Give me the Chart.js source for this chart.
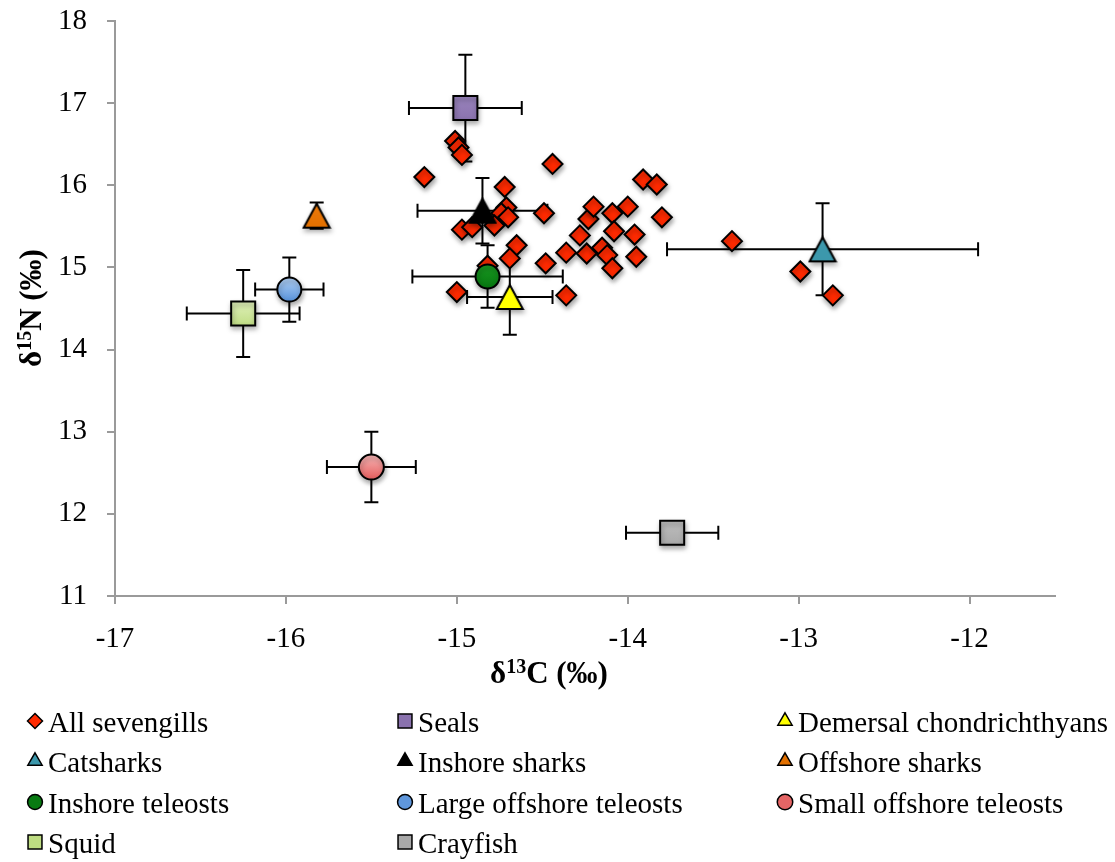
<!DOCTYPE html>
<html>
<head>
<meta charset="utf-8">
<script src="https://cdn.jsdelivr.net/npm/chart.js@4/dist/chart.umd.min.js"></script>
<style>
  html, body { margin: 0; padding: 0; background: #fff; }
  #wrap { width: 1115px; height: 862px; position: relative; }
</style>
</head>
<body>
<div id="wrap"><canvas id="c"></canvas></div>
<script>
const SERIF = '"Liberation Serif", "Times New Roman", serif';

// Individual sevengill sharks: δ13C and δ15N (‰)
const sevengillsC = [-15.19, -15.01, -14.99, -14.97, -14.44, -14.72, -14.71, -14.74, -14.70, -14.49,
                     -14.97, -14.91, -14.78, -14.65, -14.69, -14.82, -14.48, -15.00, -14.36, -14.36,
                     -14.24, -14.28, -14.23, -14.20, -13.91, -13.83, -14.00, -14.09, -13.80, -14.08,
                     -13.96, -14.15, -14.12, -13.95, -14.09, -13.39, -12.99, -12.80];
const sevengillsN = [16.10, 16.54, 16.46, 16.37, 16.26, 15.98, 15.73, 15.66, 15.61, 15.66,
                     15.46, 15.49, 15.51, 15.27, 15.11, 15.02, 15.05, 14.70, 14.66, 15.18,
                     15.17, 15.39, 15.59, 15.74, 16.07, 16.01, 15.74, 15.66, 15.61, 15.44,
                     15.40, 15.24, 15.15, 15.13, 14.99, 15.32, 14.95, 14.66];

// Prey and competitor groups: mean δ13C / δ15N with standard deviations
const groupNames = ['Seals', 'Demersal chondrichthyans', 'Catsharks', 'Inshore sharks', 'Offshore sharks',
                    'Inshore teleosts', 'Large offshore teleosts', 'Small offshore teleosts', 'Squid', 'Crayfish'];
const groupC   = [-14.95, -14.69, -12.86, -14.85, -15.82, -14.82, -15.98, -15.50, -16.25, -13.74];
const groupN   = [16.94, 14.64, 15.22, 15.69, 15.63, 14.89, 14.73, 12.57, 14.44, 11.77];
const groupCSd = [0.33, 0.25, 0.91, 0.38, 0.00, 0.44, 0.20, 0.26, 0.33, 0.27];
const groupNSd = [0.65, 0.46, 0.56, 0.40, 0.16, 0.38, 0.39, 0.43, 0.53, 0.00];

// Axis ranges and tick spacing
const xRange = [-17, -11.5];
const yRange = [11, 18];
const tickStep = 1;

// Marker look for each group (top colour, bottom colour for a soft vertical shade)
const groupStyles = {
  'Seals':                    { shape: 'rect',     r: 17, top: '#9B86BE', bottom: '#8A72AE' },
  'Demersal chondrichthyans': { shape: 'triangle', r: 15, top: '#FFFF00', bottom: '#FFFF00' },
  'Catsharks':                { shape: 'triangle', r: 15, top: '#3C98AC', bottom: '#3C98AC' },
  'Inshore sharks':           { shape: 'triangle', r: 15, top: '#000000', bottom: '#000000' },
  'Offshore sharks':          { shape: 'triangle', r: 15, top: '#EC7A0C', bottom: '#E27000' },
  'Inshore teleosts':         { shape: 'circle',   r: 12, top: '#1A9A22', bottom: '#087A12' },
  'Large offshore teleosts':  { shape: 'circle',   r: 12, top: '#B3D2F6', bottom: '#5F97DC' },
  'Small offshore teleosts':  { shape: 'circle',   r: 12.5, top: '#F8B8B8', bottom: '#E56565' },
  'Squid':                    { shape: 'rect',     r: 17, top: '#E6F4C4', bottom: '#BEDC82' },
  'Crayfish':                 { shape: 'rect',     r: 17, top: '#C2C2C2', bottom: '#A8A8A8' }
};
const sevengillStyle = { shape: 'rectRot', r: 10, top: '#FF2A00', bottom: '#FF2A00' };

// Triangle marker whose bounding box (not centroid) sits on the data point
function triangleImage(style) {
  const w = 26, h = 24, pad = 2;
  const cv = document.createElement('canvas');
  cv.width = w + pad * 2; cv.height = h + pad * 2;
  const c = cv.getContext('2d');
  c.beginPath();
  c.moveTo(pad + w / 2, pad);
  c.lineTo(pad + w, pad + h);
  c.lineTo(pad, pad + h);
  c.closePath();
  const g = c.createLinearGradient(0, pad, 0, pad + h);
  g.addColorStop(0, style.top); g.addColorStop(1, style.bottom);
  c.fillStyle = g;
  c.fill();
  c.lineJoin = 'miter';
  c.lineWidth = 2;
  c.strokeStyle = '#000';
  c.stroke();
  return cv;
}

function shadedFill(style) {
  return function (ctx) {
    const chart = ctx.chart;
    if (style.top === style.bottom || !ctx.parsed || !chart.scales.y) return style.bottom;
    const py = chart.scales.y.getPixelForValue(ctx.parsed.y);
    if (!isFinite(py)) return style.bottom;
    const g = chart.ctx.createLinearGradient(0, py - style.r, 0, py + style.r * 0.8);
    g.addColorStop(0, style.top);
    g.addColorStop(1, style.bottom);
    return g;
  };
}

const datasets = [{
  label: 'All sevengills',
  data: sevengillsC.map((c, i) => ({ x: c, y: sevengillsN[i] })),
  pointStyle: sevengillStyle.shape,
  pointRadius: sevengillStyle.r,
  backgroundColor: sevengillStyle.bottom,
  borderColor: '#000',
  borderWidth: 2,
  order: 10,
  _style: sevengillStyle
}];
groupNames.forEach((name, i) => {
  const st = groupStyles[name];
  datasets.push({
    label: name,
    data: [{ x: groupC[i], y: groupN[i] }],
    pointStyle: st.shape === 'triangle' ? triangleImage(st) : st.shape,
    pointRadius: st.r,
    backgroundColor: shadedFill(st),
    borderColor: '#000',
    borderWidth: 2,
    order: 0,
    errC: [groupCSd[i]],
    errN: [groupNSd[i]],
    _style: st
  });
});

// Horizontal and vertical ±SD bars, drawn underneath all markers
const errorBars = {
  id: 'errorBars',
  beforeDatasetsDraw(chart) {
    const { ctx, scales: { x, y } } = chart;
    const cap = 7;
    ctx.save();
    ctx.strokeStyle = '#000';
    ctx.lineWidth = 2;
    chart.data.datasets.forEach(ds => {
      if (!ds.errC) return;
      ds.data.forEach((p, j) => {
        const px = x.getPixelForValue(p.x), py = y.getPixelForValue(p.y);
        const ec = ds.errC[j] || 0, en = ds.errN[j] || 0;
        ctx.beginPath();
        if (ec > 0) {
          const x0 = x.getPixelForValue(p.x - ec), x1 = x.getPixelForValue(p.x + ec);
          ctx.moveTo(x0, py); ctx.lineTo(x1, py);
          ctx.moveTo(x0, py - cap); ctx.lineTo(x0, py + cap);
          ctx.moveTo(x1, py - cap); ctx.lineTo(x1, py + cap);
        }
        if (en > 0) {
          const y0 = y.getPixelForValue(p.y - en), y1 = y.getPixelForValue(p.y + en);
          ctx.moveTo(px, y0); ctx.lineTo(px, y1);
          ctx.moveTo(px - cap, y0); ctx.lineTo(px + cap, y0);
          ctx.moveTo(px - cap, y1); ctx.lineTo(px + cap, y1);
        }
        ctx.stroke();
      });
    });
    ctx.restore();
  }
};

// Soft drop shadow under the markers
const markerShadow = {
  id: 'markerShadow',
  beforeDatasetDraw(chart) {
    const ctx = chart.ctx;
    ctx.save();
    ctx.shadowColor = 'rgba(0,0,0,0.35)';
    ctx.shadowBlur = 5;
    ctx.shadowOffsetX = 1;
    ctx.shadowOffsetY = 3;
  },
  afterDatasetDraw(chart) {
    chart.ctx.restore();
  }
};

// Axis titles with true superscripts
function drawSupTitle(ctx, parts, cx, cy, rotate) {
  const big = 'bold 31px ' + SERIF, small = 'bold 20px ' + SERIF;
  let w = 0;
  parts.forEach(p => { ctx.font = p.sup ? small : big; w += ctx.measureText(p.t).width; });
  ctx.save();
  ctx.translate(cx, cy);
  if (rotate) ctx.rotate(-Math.PI / 2);
  ctx.fillStyle = '#000';
  ctx.textBaseline = 'alphabetic';
  ctx.textAlign = 'left';
  let xx = -w / 2;
  parts.forEach(p => {
    ctx.font = p.sup ? small : big;
    ctx.fillText(p.t, xx, p.sup ? -10 : 0);
    xx += ctx.measureText(p.t).width;
  });
  ctx.restore();
}
const axisTitles = {
  id: 'axisTitles',
  afterDraw(chart) {
    const ctx = chart.ctx;
    drawSupTitle(ctx, [{ t: 'δ' }, { t: '13', sup: true }, { t: 'C (‰)' }], 549, 683, false);
    drawSupTitle(ctx, [{ t: 'δ' }, { t: '15', sup: true }, { t: 'N (‰)' }], 41, 308, true);
  }
};

// Three-column legend under the plot
const gridLegend = {
  id: 'gridLegend',
  afterDraw(chart) {
    const ctx = chart.ctx;
    const cols = [35, 405, 785];
    const rows = [727, 767, 808, 848];
    const textGap = 13;
    ctx.save();
    chart.data.datasets.forEach((ds, i) => {
      const cx = cols[i % 3], cy = rows[Math.floor(i / 3)];
      const st = ds._style;
      const scale = st.shape === 'rectRot' ? 0.75 : (st.shape === 'rect' ? 0.58 : (st.shape === 'circle' ? 0.62 : 0.55));
      ctx.fillStyle = st.bottom;
      ctx.strokeStyle = '#000';
      ctx.lineWidth = 1.5;
      Chart.helpers.drawPoint(ctx, { pointStyle: st.shape, radius: st.r * scale, rotation: 0, borderWidth: 1.5 }, cx, cy - 6);
      ctx.fillStyle = '#000';
      ctx.font = '29px ' + SERIF;
      ctx.textAlign = 'left';
      ctx.textBaseline = 'alphabetic';
      ctx.fillText(ds.label, cx + textGap, cy + 5);
    });
    ctx.restore();
  }
};

const axisColor = '#9A9A9A';
new Chart(document.getElementById('c'), {
  type: 'scatter',
  data: { datasets },
  options: {
    responsive: true,
    maintainAspectRatio: false,
    animation: false,
    events: [],
    layout: { padding: { left: 0, top: 21, right: 60, bottom: 166 } },
    plugins: { legend: { display: false }, tooltip: { enabled: false } },
    scales: {
      x: {
        type: 'linear',
        min: xRange[0], max: xRange[1],
        afterFit(s) { s.height = 100; s.paddingLeft = 0; s.paddingRight = 0; },
        border: { display: true, color: axisColor, width: 2 },
        grid: { display: true, drawOnChartArea: false, drawTicks: true, tickLength: 8, color: axisColor, lineWidth: 2 },
        ticks: { stepSize: tickStep, includeBounds: false, color: '#000', padding: 18,
                 font: { family: SERIF, size: 29 }, maxRotation: 0 }
      },
      y: {
        type: 'linear',
        min: yRange[0], max: yRange[1],
        afterFit(s) { s.width = 115; s.paddingTop = 0; s.paddingBottom = 0; },
        border: { display: true, color: axisColor, width: 2 },
        grid: { display: true, drawOnChartArea: false, drawTicks: true, tickLength: 8, color: axisColor, lineWidth: 2 },
        ticks: { stepSize: tickStep, includeBounds: false, color: '#000', padding: 20,
                 font: { family: SERIF, size: 29 } }
      }
    }
  },
  plugins: [errorBars, markerShadow, axisTitles, gridLegend]
});
</script>
</body>
</html>
